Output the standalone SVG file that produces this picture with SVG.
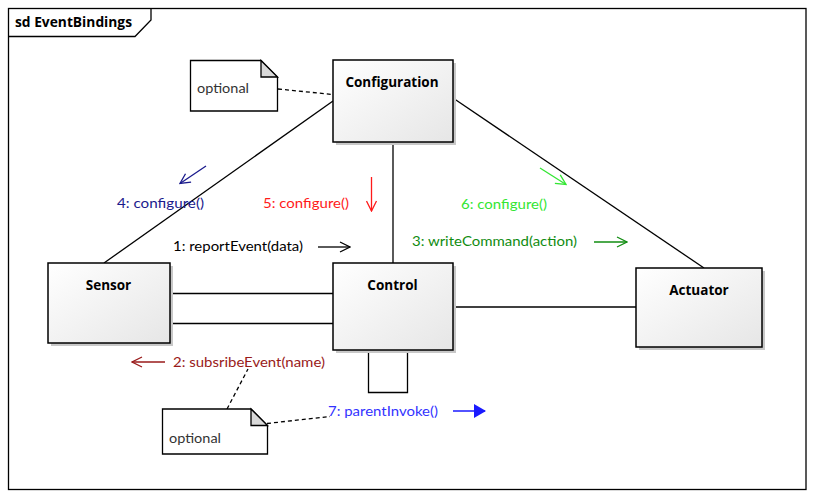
<svg xmlns="http://www.w3.org/2000/svg" width="815" height="497" viewBox="0 0 815 497">
  <defs>
    <linearGradient id="boxFill" x1="0" y1="0" x2="1" y2="1">
      <stop offset="0" stop-color="#ffffff"/>
      <stop offset="1" stop-color="#e6e6e6"/>
    </linearGradient>
    <marker id="open" viewBox="0 0 12 12" refX="11" refY="6" markerWidth="12" markerHeight="12" markerUnits="userSpaceOnUse" orient="auto">
      <path d="M1,1 L11,6 L1,11" fill="none" stroke="context-stroke" stroke-width="1.3"/>
    </marker>
    <marker id="filled" viewBox="0 0 12 14" refX="11" refY="7" markerWidth="12" markerHeight="14" markerUnits="userSpaceOnUse" orient="auto">
      <path d="M0,0 L12,7 L0,14 Z" fill="#1a1aff"/>
    </marker>
  </defs>
  <style>
    .frame { fill: none; stroke: #000; stroke-width: 1.3; }
    .box { fill: url(#boxFill); stroke: #000; stroke-width: 1.5; }
    .shadow { fill: #c8c8c8; }
    .title { font-family: "Open Sans", "Liberation Sans", sans-serif; font-weight: bold; font-size: 13.5px; fill: #000; }
    .lbl { font-family: Lato, "Liberation Sans", sans-serif; font-size: 14px; }
    .link { stroke: #000; stroke-width: 1.3; fill: none; }
    .dash { stroke: #000; stroke-width: 1.3; fill: none; stroke-dasharray: 4 3; }
    .note { fill: #fff; stroke: #000; stroke-width: 1.3; }
    .fold { fill: #d9d9d9; stroke: #000; stroke-width: 1.3; }
    .msg { fill: none; stroke-width: 1.3; marker-end: url(#open); }
  </style>

  <!-- diagram frame -->
  <g id="frame">
    <rect class="frame" x="8.5" y="8.5" width="797.5" height="481"/>
    <path class="frame" d="M8.5,36.5 H135 L151,20 V8.5"/>
    <text class="title" x="15" y="27" textLength="117" lengthAdjust="spacingAndGlyphs">sd EventBindings</text>
  </g>

  <!-- links between lifelines -->
  <g id="connectors">
    <line class="link" x1="333" y1="101" x2="104" y2="263"/>
    <line class="link" x1="393" y1="142" x2="393" y2="263"/>
    <line class="link" x1="453" y1="98" x2="704" y2="268"/>
    <line class="link" x1="170" y1="293.5" x2="333" y2="293.5"/>
    <line class="link" x1="170" y1="323.5" x2="333" y2="323.5"/>
    <line class="link" x1="453" y1="307" x2="636" y2="307"/>
    <path class="link" d="M368.5,350 V392.5 H407.5 V350"/>
    <line class="dash" x1="278" y1="89" x2="333" y2="94.5"/>
    <line class="dash" x1="227" y1="409" x2="248" y2="369"/>
    <line class="dash" x1="267" y1="423.5" x2="330" y2="416.5"/>
  </g>

  <g id="configuration">
    <rect class="shadow" x="336" y="63" width="120" height="82"/>
    <rect class="box" x="333" y="60" width="120" height="82"/>
    <text class="title" x="392" y="87" text-anchor="middle">Configuration</text>
  </g>

  <g id="sensor">
    <rect class="shadow" x="51" y="266" width="122" height="80"/>
    <rect class="box" x="48" y="263" width="122" height="80"/>
    <text class="title" x="108.5" y="290" text-anchor="middle">Sensor</text>
  </g>

  <g id="control">
    <rect class="shadow" x="336" y="266" width="120" height="87"/>
    <rect class="box" x="333" y="263" width="120" height="87"/>
    <text class="title" x="392.5" y="290" text-anchor="middle">Control</text>
  </g>

  <g id="actuator">
    <rect class="shadow" x="639" y="271" width="126" height="79"/>
    <rect class="box" x="636" y="268" width="126" height="79"/>
    <text class="title" x="699" y="295" text-anchor="middle">Actuator</text>
  </g>

  <g id="note-top">
    <path class="note" d="M190.5,60.5 H261 L277.5,77 V111 H190.5 Z"/>
    <path class="fold" d="M261,60.5 V77 H277.5 Z"/>
    <text class="lbl" x="197" y="93" fill="#333" textLength="52" lengthAdjust="spacingAndGlyphs">optional</text>
  </g>

  <g id="note-bottom">
    <path class="note" d="M162.5,409 H251 L267.5,425.5 V454 H162.5 Z"/>
    <path class="fold" d="M251,409 V425.5 H267.5 Z"/>
    <text class="lbl" x="169" y="443" fill="#333" textLength="52" lengthAdjust="spacingAndGlyphs">optional</text>
  </g>

  <!-- message labels and direction arrows -->
  <g id="messages">
    <text class="lbl" x="117" y="208" fill="#1a1a8c" textLength="87" lengthAdjust="spacingAndGlyphs">4: configure()</text>
    <line class="msg" x1="206" y1="166" x2="180" y2="183.5" stroke="#1a1a8c"/>

    <text class="lbl" x="263" y="208" fill="#ff1a1a" textLength="86" lengthAdjust="spacingAndGlyphs">5: configure()</text>
    <line class="msg" x1="371.5" y1="177" x2="371.5" y2="211" stroke="#ff1a1a"/>

    <text class="lbl" x="173" y="251" fill="#000" textLength="130" lengthAdjust="spacingAndGlyphs">1: reportEvent(data)</text>
    <line class="msg" x1="318" y1="247" x2="350" y2="247" stroke="#000"/>

    <text class="lbl" x="461" y="209" fill="#33e633" textLength="86" lengthAdjust="spacingAndGlyphs">6: configure()</text>
    <line class="msg" x1="540" y1="168" x2="566" y2="184.5" stroke="#33e633"/>

    <text class="lbl" x="412" y="246" fill="#118c11" textLength="165" lengthAdjust="spacingAndGlyphs">3: writeCommand(action)</text>
    <line class="msg" x1="594" y1="242" x2="627" y2="242" stroke="#118c11"/>

    <text class="lbl" x="173" y="367" fill="#991a1a" textLength="152" lengthAdjust="spacingAndGlyphs">2: subsribeEvent(name)</text>
    <line class="msg" x1="165" y1="362" x2="132" y2="362" stroke="#991a1a"/>

    <text class="lbl" x="328" y="416" fill="#3333ff" textLength="110" lengthAdjust="spacingAndGlyphs">7: parentInvoke()</text>
    <line x1="453" y1="411" x2="485" y2="411" stroke="#1a1aff" stroke-width="1.5" marker-end="url(#filled)"/>
  </g>
</svg>
